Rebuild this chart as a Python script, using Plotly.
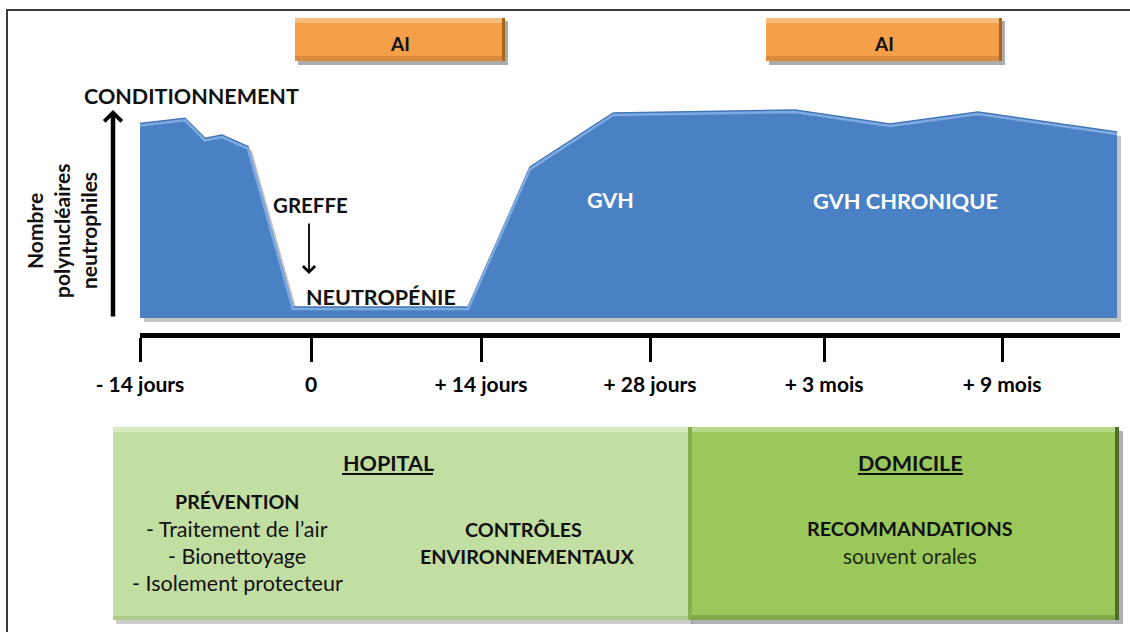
import plotly.graph_objects as go

W, H = 1130, 632

# ---------------- data ----------------
# schematic time position (1 unit ~ one tick interval) and neutrophil level (0-100)
time_pos = [0.0, 0.261, 0.377, 0.476, 0.626, 0.887, 1.903, 2.262, 2.744, 3.799, 4.350, 4.861, 5.667]
neutro_level = [94.0, 96.5, 86.8, 88.4, 82.8, 5.3, 5.3, 72.9, 99.0, 100.5, 93.7, 99.5, 89.9]

tick_pos = [0.0, 0.992, 1.978, 2.958, 3.968, 5.0]
tick_labels = ["- 14 jours", "0", "+ 14 jours", "+ 28 jours", "+ 3 mois", "+ 9 mois"]

phase_labels = ["GVH", "GVH CHRONIQUE"]
ylabel_lines = ["Nombre", "polynucléaires", "neutrophiles"]
hopital_items = ["- Traitement de l’air", "- Bionettoyage", "- Isolement protecteur"]

# ---------------- geometry helpers (layout only) ----------------
X_RANGE = [0, 5.684]
Y_RANGE = [0, 105]


def px(x):
    return x / W


def py(y):
    return 1 - y / H


FONT = "Lato"
BLUE = "#4a81c4"

fig = go.Figure()

# drop shadow of the area (same data, axes shifted a few pixels) - subplot xy drawn first
fig.add_trace(go.Scatter(
    x=time_pos, y=neutro_level, xaxis="x", yaxis="y",
    mode="lines", fill="tozeroy", fillcolor="rgba(60,60,60,0.30)",
    line=dict(color="rgba(60,60,60,0.0)", width=0), hoverinfo="skip", showlegend=False))

# main area
fig.add_trace(go.Scatter(
    x=time_pos, y=neutro_level, xaxis="x2", yaxis="y2", mode="lines", fill="tozeroy",
    fillcolor=BLUE, line=dict(color="#3f74b6", width=1.5),
    hoverinfo="skip", showlegend=False))

# bevel highlight along the top edge
fig.add_trace(go.Scatter(
    x=time_pos, y=neutro_level, xaxis="x2", yaxis="y3", mode="lines",
    line=dict(color="#7eaae0", width=2.5), hoverinfo="skip", showlegend=False))

shapes = []
annotations = []

# image border (left and top)
shapes.append(dict(type="line", xref="paper", yref="paper", x0=px(7), x1=px(7), y0=py(9), y1=py(632),
                   line=dict(color="#3a3a3a", width=2)))
shapes.append(dict(type="line", xref="paper", yref="paper", x0=px(6), x1=px(1130), y0=py(10), y1=py(10),
                   line=dict(color="#3a3a3a", width=2)))


def rect(x0, y0, x1, y1, fill, layer="below"):
    return dict(type="rect", xref="paper", yref="paper", x0=px(x0), x1=px(x1), y0=py(y1), y1=py(y0),
                fillcolor=fill, layer=layer, line=dict(width=0, color=fill))


def ann(text, x, y, size=20, bold=True, color="#111", angle=0):
    t = f"<b>{text}</b>" if bold else text
    return dict(text=t, x=px(x), y=py(y), xref="paper", yref="paper", showarrow=False,
                textangle=angle, xanchor="center", yanchor="middle",
                font=dict(family=FONT, size=size, color=color))


# orange "AI" boxes
for (x0, x1) in [(295, 505), (766, 1002)]:
    shapes.append(rect(x0 + 3, 21, x1 + 3, 65, "rgba(70,70,70,0.45)"))
    shapes.append(rect(x0, 18, x1, 61, "#f5a048"))
    shapes.append(rect(x0, 18, x1, 23, "#f8bd7c"))
    shapes.append(rect(x0, 56, x1, 61, "#d98a3c"))
    shapes.append(rect(x1 - 3, 18, x1, 61, "#a8631f"))
    annotations.append(ann("AI", (x0 + x1) / 2, 43, size=19))

# green boxes
shapes.append(rect(116, 431, 692, 624, "rgba(90,90,90,0.30)"))
shapes.append(rect(113, 427, 688, 620, "#c3dea3"))
shapes.append(rect(113, 427, 688, 432, "#d7eac0"))
shapes.append(rect(113, 616, 688, 620, "#aecb8c"))
shapes.append(rect(691, 431, 1123, 624, "rgba(60,60,60,0.40)"))
shapes.append(rect(688, 427, 1119, 620, "#9bc85a"))
shapes.append(rect(688, 427, 1119, 432, "#b7d98a"))
shapes.append(rect(688, 615, 1119, 620, "#7fa948"))
shapes.append(rect(1115, 427, 1119, 620, "#4f6f2a"))
shapes.append(rect(688, 427, 692, 620, "#86b04c"))

# underlines
shapes.append(dict(type="line", xref="paper", yref="paper", x0=px(342), x1=px(433), y0=py(474), y1=py(474),
                   line=dict(color="#111", width=2)))
shapes.append(dict(type="line", xref="paper", yref="paper", x0=px(858), x1=px(963), y0=py(474), y1=py(474),
                   line=dict(color="#111", width=2)))

annotations += [
    ann("CONDITIONNEMENT", 191, 96, size=21.5),
    ann("GREFFE", 310, 205, size=20.5),
    ann("NEUTROPÉNIE", 381, 297, size=21.5),
    ann(phase_labels[0], 610, 200, size=21.5, color="white"),
    ann(phase_labels[1], 905, 200, size=21.8, color="white"),
    ann("HOPITAL", 388, 463, size=21.5),
    ann("PRÉVENTION", 237, 501, size=19.6),
    ann(hopital_items[0], 237, 529, bold=False, size=21.5),
    ann(hopital_items[1], 237, 556, bold=False, size=21.5),
    ann(hopital_items[2], 237, 583, bold=False, size=21.5),
    ann("CONTRÔLES", 523, 529, size=19.8),
    ann("ENVIRONNEMENTAUX", 527, 556, size=19.8),
    ann("DOMICILE", 910, 463, size=21.5),
    ann("RECOMMANDATIONS", 910, 528, size=19.8),
    ann("souvent orales", 910, 555, bold=False, size=21, color="#1f2a14"),
]
for i, line in enumerate(ylabel_lines):
    annotations.append(ann(line, [35, 62, 89][i], 231, size=21, angle=-90))

# vertical (y) arrow
annotations.append(dict(x=px(113), y=py(110), xref="paper", yref="paper", ax=0, ay=208,
                        axref="pixel", ayref="pixel", text="", showarrow=True,
                        arrowhead=4, arrowsize=0.75, arrowwidth=4.5, arrowcolor="black"))
# greffe arrow
annotations.append(dict(x=px(309), y=py(274), xref="paper", yref="paper", ax=0, ay=-52,
                        text="", showarrow=True, arrowhead=4, arrowsize=1.3, arrowwidth=1.8,
                        arrowcolor="black"))

yd0 = 1 - 318 / H
yd1 = 1 - (318 - 105 * 2.07) / H
sh = 4

fig.update_layout(
    width=W, height=H, margin=dict(l=0, r=0, t=0, b=0, pad=0, autoexpand=False),
    paper_bgcolor="white", plot_bgcolor="rgba(0,0,0,0)",
    showlegend=False,
    # shadow subplot (drawn first)
    xaxis=dict(domain=[px(140 + sh), px(1120 + sh)], range=X_RANGE, visible=False, anchor="y",
               automargin=False, fixedrange=True),
    yaxis=dict(domain=[yd0 - sh / H, yd1 - sh / H], range=Y_RANGE, visible=False, anchor="x",
               automargin=False, fixedrange=True),
    # main subplot with the timeline axis
    xaxis2=dict(domain=[px(140), px(1120)], range=X_RANGE, anchor="free", position=1 - 335 / H,
                showgrid=False, zeroline=False, showline=True, linewidth=5, linecolor="black",
                ticks="outside", ticklen=24, tickwidth=3, tickcolor="black",
                tickvals=tick_pos, ticktext=[f"<b>{t}</b>" for t in tick_labels],
                tickfont=dict(family=FONT, size=21, color="black"), ticklabelstandoff=5,
                automargin=False, fixedrange=True),
    yaxis2=dict(domain=[yd0, yd1], range=Y_RANGE, visible=False, anchor="x2",
                automargin=False, fixedrange=True),
    yaxis3=dict(domain=[yd0 - 2 / H, yd1 - 2 / H], range=Y_RANGE, visible=False, anchor="x2",
                automargin=False, fixedrange=True),
    shapes=shapes, annotations=annotations,
)

fig.write_html("out.html", config={"displayModeBar": False},
               post_script="document.body.style.margin='0px';document.body.style.overflow='hidden';")
